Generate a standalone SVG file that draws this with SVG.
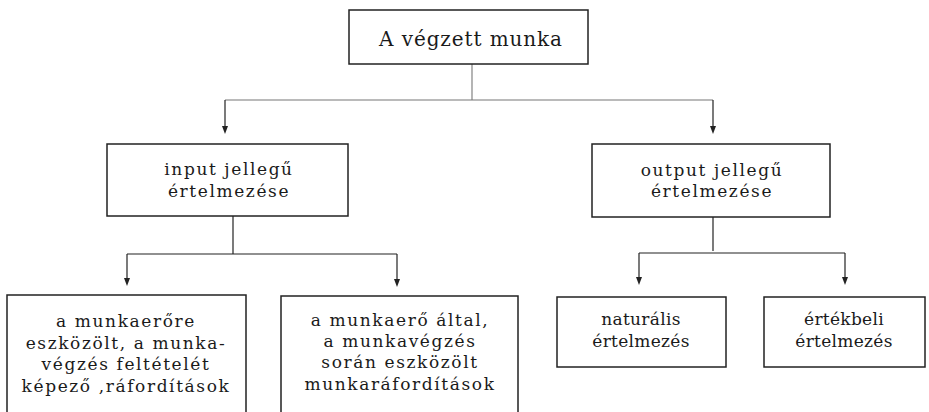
<svg xmlns="http://www.w3.org/2000/svg" width="929" height="412" viewBox="0 0 929 412">
<style>
  .box { fill: none; stroke: #222; stroke-width: 1.5; }
  .t { font-family: "DejaVu Serif", "Liberation Serif", serif; font-size: 17px; letter-spacing: 1.6px; fill: #1a1a1a; text-anchor: middle; }
  .t2 { letter-spacing: 0.3px; }
  .top { font-size: 20px; letter-spacing: 0.9px; }
  .c { fill: none; stroke: #222; stroke-width: 1.2; }
  .cl { fill: none; stroke: #777; stroke-width: 1.1; }
  .ah { fill: #222; }
</style>
<rect width="929" height="412" fill="#fff"/>

<g id="connectors">
  <path class="cl" d="M472 64 V100"/>
  <path class="cl" d="M225 100 H713"/>
  <path class="c" d="M225 100 V126"/>
  <path class="c" d="M713 100 V126"/>
  <path class="ah" d="M222 126 L228 126 L225 134 Z"/>
  <path class="ah" d="M710 126 L716 126 L713 134 Z"/>

  <path class="c" d="M233 216 V254"/>
  <path class="c" d="M127 254 H397"/>
  <path class="c" d="M127 254 V278"/>
  <path class="c" d="M397 254 V279"/>
  <path class="ah" d="M124 278 L130 278 L127 286 Z"/>
  <path class="ah" d="M394 279 L400 279 L397 287 Z"/>

  <path class="c" d="M713 217 V251"/>
  <path class="c" d="M639 253 H845"/>
  <path class="c" d="M639 253 V277"/>
  <path class="c" d="M845 253 V277"/>
  <path class="ah" d="M636 277 L642 277 L639 285 Z"/>
  <path class="ah" d="M842 277 L848 277 L845 285 Z"/>
</g>

<g id="node-top">
  <rect class="box" x="349" y="10" width="239" height="54"/>
  <text class="t top" x="471" y="46">A végzett munka</text>
</g>

<g id="node-input">
  <rect class="box" x="107" y="144" width="241" height="72"/>
  <text class="t" x="229" y="175">input jellegű</text>
  <text class="t" x="229" y="197">értelmezése</text>
</g>

<g id="node-output">
  <rect class="box" x="592" y="144" width="238" height="73"/>
  <text class="t" x="712" y="176">output jellegű</text>
  <text class="t" x="712" y="197">értelmezése</text>
</g>

<g id="node-munkaerore">
  <path class="box" d="M7 412 V295 H246 V412"/>
  <text class="t" x="126" y="327">a munkaerőre</text>
  <text class="t" x="126" y="349">eszközölt, a munka-</text>
  <text class="t" x="126" y="370">végzés feltételét</text>
  <text class="t" x="126" y="392">képező ,ráfordítások</text>
</g>

<g id="node-munkaero-altal">
  <path class="box" d="M281 412 V296 H518 V412"/>
  <text class="t" x="400" y="326">a munkaerő által,</text>
  <text class="t" x="400" y="347">a munkavégzés</text>
  <text class="t" x="400" y="368">során eszközölt</text>
  <text class="t" x="400" y="390">munkaráfordítások</text>
</g>

<g id="node-naturalis">
  <rect class="box" x="557" y="297" width="169" height="70"/>
  <text class="t t2" x="641" y="325">naturális</text>
  <text class="t t2" x="641" y="347">értelmezés</text>
</g>

<g id="node-ertekbeli">
  <rect class="box" x="764" y="297" width="161" height="70"/>
  <text class="t t2" x="844" y="325">értékbeli</text>
  <text class="t t2" x="844" y="347">értelmezés</text>
</g>
</svg>
